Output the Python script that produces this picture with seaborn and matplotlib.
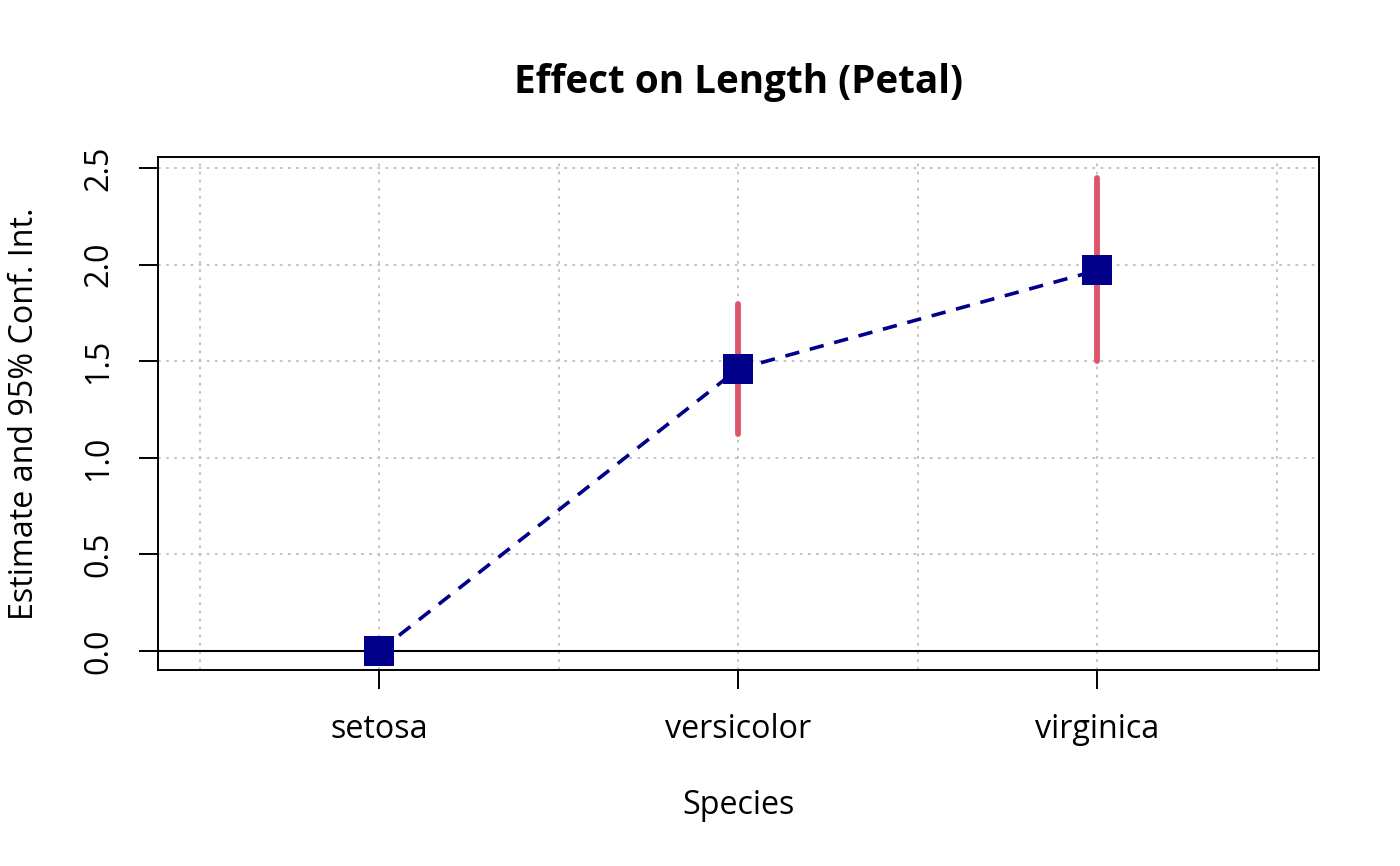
import numpy as np
import pandas as pd
import seaborn as sns
import matplotlib.pyplot as plt

# Estimates (setosa is the reference level)
species = ["setosa", "versicolor", "virginica"]
estimate = [0.0, 1.46, 1.97]
ci_low = [0.0, 1.125, 1.50]
ci_high = [0.0, 1.795, 2.45]
y_ticks = [0.0, 0.5, 1.0, 1.5, 2.0, 2.5]
y_tick_labels = ["0.0", "0.5", "1.0", "1.5", "2.0", "2.5"]

df = pd.DataFrame({"Species": species, "estimate": estimate,
                   "low": ci_low, "high": ci_high})
df["pos"] = np.arange(len(species))

sns.set_theme(style="ticks")
plt.rcParams['font.family'] = ['Open Sans', 'Noto Sans', 'DejaVu Sans']

fig = plt.figure(figsize=(14, 8.66), dpi=100)
ax = fig.add_axes([158 / 1400, 1 - 670 / 866, (1319 - 158) / 1400, (670 - 157) / 866])

# grid like R's grid(): dotted lightgray
grid_style = dict(color="#BEBEBE", linewidth=1.3, linestyle=(0, (1.5, 3)), zorder=0)
for gx in np.arange(-0.5, 3.0, 0.5):
    ax.axvline(gx, **grid_style)
for gy in y_ticks:
    ax.axhline(gy, **grid_style)
ax.axhline(0, color="black", linewidth=1.5, zorder=1)

# confidence intervals
ax.vlines(df["pos"], df["low"], df["high"], color="#DF536B", linewidth=4.2,
          capstyle="round", zorder=2)

# dashed line connecting estimates
sns.lineplot(data=df, x="pos", y="estimate", ax=ax, color="#00008B",
             linewidth=2.6, dashes=False, zorder=3)
ax.lines[-1].set_dashes((4, 3))

# square markers
sns.scatterplot(data=df, x="pos", y="estimate", ax=ax, marker="s", s=480,
                color="#00008B", linewidth=0, zorder=4)

ax.set_xlim(-0.616, 2.618)
ax.set_ylim(-0.098, 2.557)
ax.set_xticks(df["pos"], species)
ax.set_yticks(y_ticks, y_tick_labels)
for lab in ax.get_yticklabels():
    lab.set_rotation(90)
    lab.set_va("center")

ax.tick_params(axis="both", length=13.7, width=1.4, color="black",
               labelsize=23.2, labelcolor="black")
ax.tick_params(axis="x", pad=17)
ax.tick_params(axis="y", pad=17)
for sp in ax.spines.values():
    sp.set_visible(True)
    sp.set_color("black")
    sp.set_linewidth(1.4)

ax.set_xlabel("Species", fontsize=23.2, color="black")
ax.xaxis.set_label_coords(0.5, (670 - 806) / 513)
ax.xaxis.label.set_va("center")
ax.set_ylabel("Estimate and 95% Conf. Int.", fontsize=23.2, color="black")
ax.yaxis.set_label_coords((25 - 158) / 1161, 0.5)
ax.yaxis.label.set_va("center")

ax.set_title("Effect on Length (Petal)", fontsize=27.8, fontweight="bold",
             color="black", pad=46)

fig.savefig("out.png", dpi=100)
